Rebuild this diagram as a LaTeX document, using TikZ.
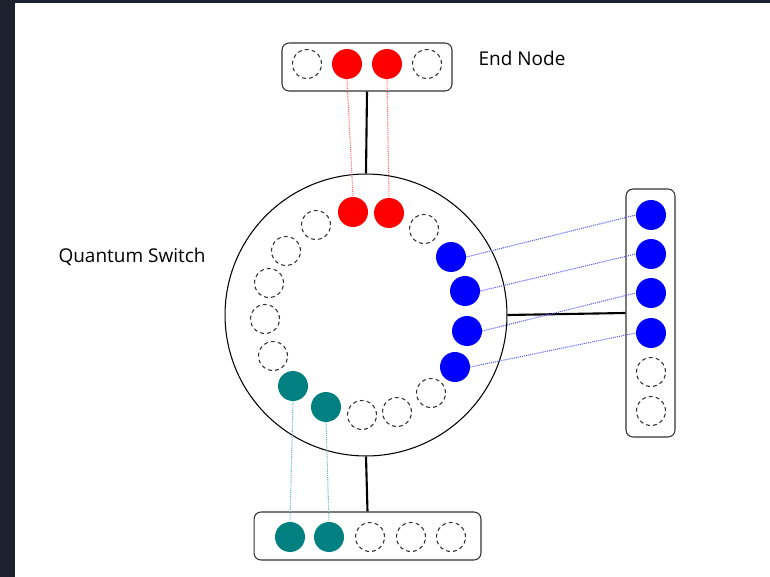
\documentclass[tikz,border=0pt]{standalone}
\usepackage{fontspec}
\setmainfont{Open Sans}
\usetikzlibrary{calc, shapes, arrows}
\definecolor{bgdark}{RGB}{28,33,46}
\definecolor{qred}{RGB}{255,0,0}
\definecolor{qblue}{RGB}{0,0,255}
\definecolor{qteal}{RGB}{0,128,128}
\newcommand\qbit[4]{\node[qubit, fill=#4] (#1) at (#2,#3) {};}
\newcommand\qslot[3]{\node[slot] (#1) at (#2,#3) {};}
\newcommand\qlink[3]{\draw[qlinkline, draw=#3] (#1) -- (#2);}

\begin{document}
\begin{tikzpicture}[x=0.02cm, y=-0.02cm,
  qubit/.style={circle, minimum size=0.6cm, inner sep=0pt},
  slot/.style={circle, draw=black!80, line width=0.6pt, dash pattern=on 2.2pt off 1.8pt, minimum size=0.58cm, inner sep=0pt},
  unit/.style={draw=black!80, line width=0.6pt, rounded corners=4pt, inner sep=0pt},
  wire/.style={line width=1.2pt},
  qlinkline/.style={line width=0.6pt, dash pattern=on 0.6pt off 0.6pt},
  lbl/.style={font=\fontsize{10.8}{12}\selectfont, inner sep=0pt}]
\fill[bgdark] (0,0) rectangle (770,577);
\fill[white] (15,3) rectangle (770,577);

% quantum switch
\node[circle, draw, line width=0.6pt, minimum size=5.64cm, inner sep=0pt] (sw) at (366,315) {};
\node[lbl] (swlabel) at (132,257) {Quantum Switch};

% end nodes
\node[unit, minimum width=3.4cm, minimum height=0.96cm] (topbox) at (367,67) {};
\node[unit, minimum width=0.98cm, minimum height=4.96cm] (rightbox) at (650.5,313) {};
\node[unit, minimum width=4.54cm, minimum height=0.96cm] (botbox) at (367.5,536) {};
\node[lbl] (endlabel) at (522,58) {End Node};

\draw[wire] (topbox.south) -- (sw.north);
\draw[wire] (sw.east) -- (rightbox.west);
\draw[wire] (sw.south) -- (botbox.north);

% qubits of the top end node
\qslot{et1}{307}{64}
\qbit{er1}{347}{64}{qred}
\qbit{er2}{387}{64}{qred}
\qslot{et2}{427}{64}

% qubits of the right end node
\qbit{rb1}{651}{215}{qblue}
\qbit{rb2}{651}{254}{qblue}
\qbit{rb3}{651}{293}{qblue}
\qbit{rb4}{651}{333}{qblue}
\qslot{rs1}{651}{372}
\qslot{rs2}{651}{411}

% qubits of the bottom end node
\qbit{bt1}{290}{537}{qteal}
\qbit{bt2}{329}{537}{qteal}
\qslot{bs1}{370}{537}
\qslot{bs2}{411}{537}
\qslot{bs3}{451}{537}

% qubits inside the switch
\qbit{sr1}{353}{212}{qred}
\qbit{sr2}{389}{213}{qred}
\qslot{sd1}{424}{229}
\qbit{sb1}{451}{257}{qblue}
\qbit{sb2}{465}{291}{qblue}
\qbit{sb3}{467}{331}{qblue}
\qbit{sb4}{455}{367}{qblue}
\qslot{sd2}{431}{393}
\qslot{sd3}{397}{412}
\qslot{sd4}{362}{415}
\qbit{st2}{326}{407}{qteal}
\qbit{st1}{293}{386}{qteal}
\qslot{sd5}{273}{356}
\qslot{sd6}{265}{319}
\qslot{sd7}{269}{283}
\qslot{sd8}{286}{251}
\qslot{sd9}{316}{225}

% entanglement links
\qlink{er1.south}{sr1.north}{qred!60}
\qlink{er2.south}{sr2.north}{qred!60}
\foreach \i in {1,...,4}
  \qlink{sb\i.east}{rb\i.west}{qblue!65};
\qlink{st1.south}{bt1.north}{qteal!60}
\qlink{st2.south}{bt2.north}{qteal!60}
\end{tikzpicture}
\end{document}
